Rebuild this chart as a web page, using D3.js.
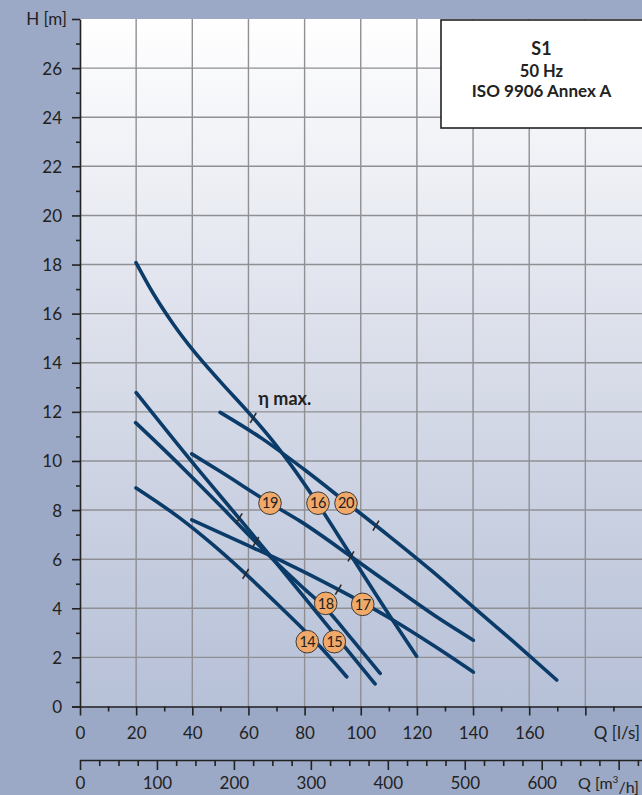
<!DOCTYPE html>
<html>
<head>
<meta charset="utf-8">
<script src="https://cdn.jsdelivr.net/npm/d3@7/dist/d3.min.js"></script>
<style>
  html, body { margin: 0; padding: 0; background: #9ba9c6; }
  svg { display: block; font-family: Lato, "Open Sans", sans-serif; }
</style>
</head>
<body>
<svg id="chart" width="642" height="795"></svg>
<script>
// Pump performance curves, H [m] against Q [l/s]
const curve14 = [[19.95, 8.90], [35.6, 7.67], [47.0, 6.62], [59.0, 5.40], [71.2, 4.07], [85.5, 2.44], [95.0, 1.21]];
const curve15 = [[20.0, 12.78], [39.8, 9.97], [56.7, 7.66], [69.5, 5.90], [86.6, 3.51], [105.1, 0.92]];
const curve16 = [[19.95, 18.08], [26.1, 16.82], [33.2, 15.58], [40.4, 14.49], [49.9, 13.24], [60.6, 11.90],
                 [68.9, 10.78], [74.8, 9.89], [84.8, 8.24], [96.2, 6.21], [111.5, 3.49], [119.9, 2.05]];
const curve17 = [[39.8, 7.60], [59.4, 6.58], [73.6, 5.83], [91.4, 4.80], [100.5, 4.24], [111.6, 3.51],
                 [125.8, 2.49], [140.1, 1.40]];
const curve18 = [[19.8, 11.56], [30.0, 10.45], [40.0, 9.33], [50.0, 8.18], [60.0, 7.00], [70.0, 5.85],
                 [80.0, 4.78], [87.5, 4.00], [97.0, 2.72], [106.9, 1.35]];
const curve19 = [[39.8, 10.29], [50.0, 9.57], [67.7, 8.28], [78.4, 7.55], [97.4, 6.04], [114.1, 4.68],
                 [128.2, 3.56], [140.1, 2.70]];
const curve20 = [[49.9, 11.98], [65.0, 10.90], [80.0, 9.64], [95.0, 8.30], [110.0, 6.95], [125.0, 5.55],
                 [140.0, 4.06], [155.0, 2.58], [169.8, 1.08]];

const pumpNames = ["14", "15", "16", "17", "18", "19", "20"];
const pumpCurves = [curve14, curve15, curve16, curve17, curve18, curve19, curve20];
// flow at best efficiency point of each pump
const etaMaxQ = [59.0, 56.7, 61.7, 92.0, 62.6, 96.5, 105.4];
// position of each pump's number badge [Q, H]
const badgeQ = [80.96, 90.58, 84.77, 100.7, 87.52, 67.68, 94.75];
const badgeH = [2.64, 2.64, 8.28, 4.16, 4.20, 8.28, 8.28];

const hMajorTicks = d3.range(0, 29, 2);
const hMinorTicks = d3.range(1, 28, 2);
const qMajorTicks = d3.range(0, 181, 20);
const qMinorTicks = d3.range(10, 200, 20);
const qhMajorTicks = d3.range(0, 701, 100);
const qhMinorTicks = d3.range(25, 730, 25).filter(v => v % 100 !== 0);
const legendLines = ["S1", "50 Hz", "ISO 9906 Annex A"];

const svg = d3.select("#chart");
const W = 642, H = 795;

const x = d3.scaleLinear().domain([0, 200]).range([80, 641.5]);
const y = d3.scaleLinear().domain([0, 28]).range([706.5, 19]);
const xm = d3.scaleLinear().domain([0, 600]).range([80, 541.7]);

// background
svg.append("rect").attr("width", W).attr("height", H).attr("fill", "#9ba9c6");

const defs = svg.append("defs");
const grad = defs.append("linearGradient").attr("id", "plotBg")
  .attr("x1", 0).attr("y1", 0).attr("x2", 0).attr("y2", 1);
grad.append("stop").attr("offset", "0%").attr("stop-color", "#ffffff");
grad.append("stop").attr("offset", "50%").attr("stop-color", "#d9dde9");
grad.append("stop").attr("offset", "100%").attr("stop-color", "#b6c0d7");

svg.append("rect")
  .attr("x", x(0)).attr("y", y(28))
  .attr("width", W - x(0)).attr("height", y(0) - y(28))
  .attr("fill", "url(#plotBg)");

// grid
const grid = svg.append("g").attr("stroke", "#8f8f94").attr("stroke-width", 1.4);
grid.selectAll(".gv").data(d3.range(20, 181, 20)).join("line")
  .attr("x1", d => x(d)).attr("x2", d => x(d))
  .attr("y1", y(28)).attr("y2", y(0));
grid.selectAll(".gh").data(d3.range(2, 27, 2)).join("line")
  .attr("x1", x(0)).attr("x2", W)
  .attr("y1", d => y(d)).attr("y2", d => y(d));

// axes
function styleAxis(g) {
  g.selectAll("path.domain").attr("stroke", "#222").attr("stroke-width", 1.6);
  g.selectAll(".tick line").attr("stroke", "#222").attr("stroke-width", 1.6);
  g.selectAll("text").attr("fill", "#222").attr("font-size", 17).attr("font-family", "Lato, sans-serif");
}

// H axis
const yMajor = svg.append("g").attr("transform", `translate(${x(0)},0)`)
  .call(d3.axisLeft(y).tickValues(hMajorTicks).tickSize(8).tickSizeOuter(0)
    .tickFormat(d => d === 28 ? "" : d));
styleAxis(yMajor);
yMajor.selectAll("text").attr("x", -18).attr("dy", "0.35em");
const yMinor = svg.append("g").attr("transform", `translate(${x(0)},0)`)
  .call(d3.axisLeft(y).tickValues(hMinorTicks).tickSize(4).tickFormat(""));
styleAxis(yMinor);
yMinor.select("path.domain").remove();

svg.append("text").attr("x", 67).attr("y", 19).attr("dy", "0.35em")
  .attr("text-anchor", "end").attr("font-size", 17).attr("fill", "#222")
  .text("H [m]");

// Q [l/s] axis
const xMajor = svg.append("g").attr("transform", `translate(0,${y(0)})`)
  .call(d3.axisBottom(x).tickValues(qMajorTicks).tickSize(9).tickSizeOuter(0)
    .tickFormat(d => d > 160 ? "" : d));
styleAxis(xMajor);
xMajor.select("path.domain").attr("d", `M${x(0) - 8},0.5H${W}`);
xMajor.selectAll("text").attr("y", 26.5).attr("dy", "0.35em");
const xMinor = svg.append("g").attr("transform", `translate(0,${y(0)})`)
  .call(d3.axisBottom(x).tickValues(qMinorTicks).tickSize(5).tickFormat(""));
styleAxis(xMinor);
xMinor.select("path.domain").remove();

svg.append("text").attr("x", 640).attr("y", 733).attr("dy", "0.35em")
  .attr("text-anchor", "end").attr("font-size", 17).attr("fill", "#222")
  .text("Q [l/s]");

// Q [m³/h] axis
const mAxisY = 760;
const mMajor = svg.append("g").attr("transform", `translate(0,${mAxisY})`)
  .call(d3.axisBottom(xm).tickValues(qhMajorTicks).tickSize(10).tickSizeOuter(0)
    .tickFormat(d => d > 600 ? "" : d));
styleAxis(mMajor);
mMajor.select("path.domain").attr("d", `M${xm(0)},0.5H${W}`);
mMajor.selectAll("text").attr("y", 23.5).attr("dy", "0.35em");
const mMinor = svg.append("g").attr("transform", `translate(0,${mAxisY})`)
  .call(d3.axisBottom(xm).tickValues(qhMinorTicks).tickSize(6).tickFormat(""));
styleAxis(mMinor);
mMinor.select("path.domain").remove();

const qmLabel = svg.append("text").attr("x", 639).attr("y", 783.5).attr("dy", "0.35em")
  .attr("text-anchor", "end").attr("font-size", 16).attr("fill", "#222");
qmLabel.append("tspan").text("Q [m");
qmLabel.append("tspan").attr("font-size", 10).attr("dy", "-0.6em").text("3");
qmLabel.append("tspan").attr("dy", "0.6em").text("/h]");

// legend box
svg.append("rect").attr("x", 441).attr("y", 20).attr("width", 203).attr("height", 108)
  .attr("fill", "#ffffff").attr("stroke", "#222").attr("stroke-width", 1.6);
const legendSizes = [18, 16.5, 17];
const legendY = [48.5, 71, 91.5];
svg.selectAll(".legend").data(legendLines).join("text")
  .attr("x", 541.5).attr("y", (d, i) => legendY[i]).attr("dy", "0.35em")
  .attr("text-anchor", "middle").attr("font-weight", "bold")
  .attr("font-size", (d, i) => legendSizes[i]).attr("fill", "#222")
  .text(d => d);

// curves
const line = d3.line().x(d => x(d[0])).y(d => y(d[1])).curve(d3.curveMonotoneX);
svg.append("g").selectAll("path").data(pumpCurves).join("path")
  .attr("d", line)
  .attr("fill", "none").attr("stroke", "#0b3b69").attr("stroke-width", 3.6)
  .attr("stroke-linecap", "round").attr("stroke-linejoin", "round");

// best efficiency marks
function headAt(pts, q) {
  for (let i = 1; i < pts.length; i++) {
    if (q <= pts[i][0]) {
      const t = (q - pts[i - 1][0]) / (pts[i][0] - pts[i - 1][0]);
      return pts[i - 1][1] + t * (pts[i][1] - pts[i - 1][1]);
    }
  }
  return pts[pts.length - 1][1];
}
const marks = pumpCurves.map((pts, i) => [etaMaxQ[i], headAt(pts, etaMaxQ[i])]);
svg.append("g").selectAll("line").data(marks).join("line")
  .attr("x1", d => x(d[0]) - 3).attr("y1", d => y(d[1]) + 5)
  .attr("x2", d => x(d[0]) + 3).attr("y2", d => y(d[1]) - 5)
  .attr("stroke", "#2a2a2a").attr("stroke-width", 1.6);

svg.append("text").attr("x", x(63.5)).attr("y", y(12.55)).attr("dy", "0.35em")
  .attr("font-size", 18).attr("font-weight", "bold").attr("fill", "#222")
  .text("η max.");

// pump number badges
const badges = svg.append("g").selectAll("g").data(pumpNames).join("g")
  .attr("transform", (d, i) => `translate(${x(badgeQ[i])},${y(badgeH[i])})`);
badges.append("circle").attr("r", 11.3)
  .attr("fill", "#f0a968").attr("stroke", "#3a3a3a").attr("stroke-width", 1);
badges.append("text").attr("text-anchor", "middle").attr("dy", "0.36em")
  .attr("font-size", 14.5).attr("fill", "#222").attr("letter-spacing", -0.5)
  .text(d => d);
</script>
</body>
</html>
